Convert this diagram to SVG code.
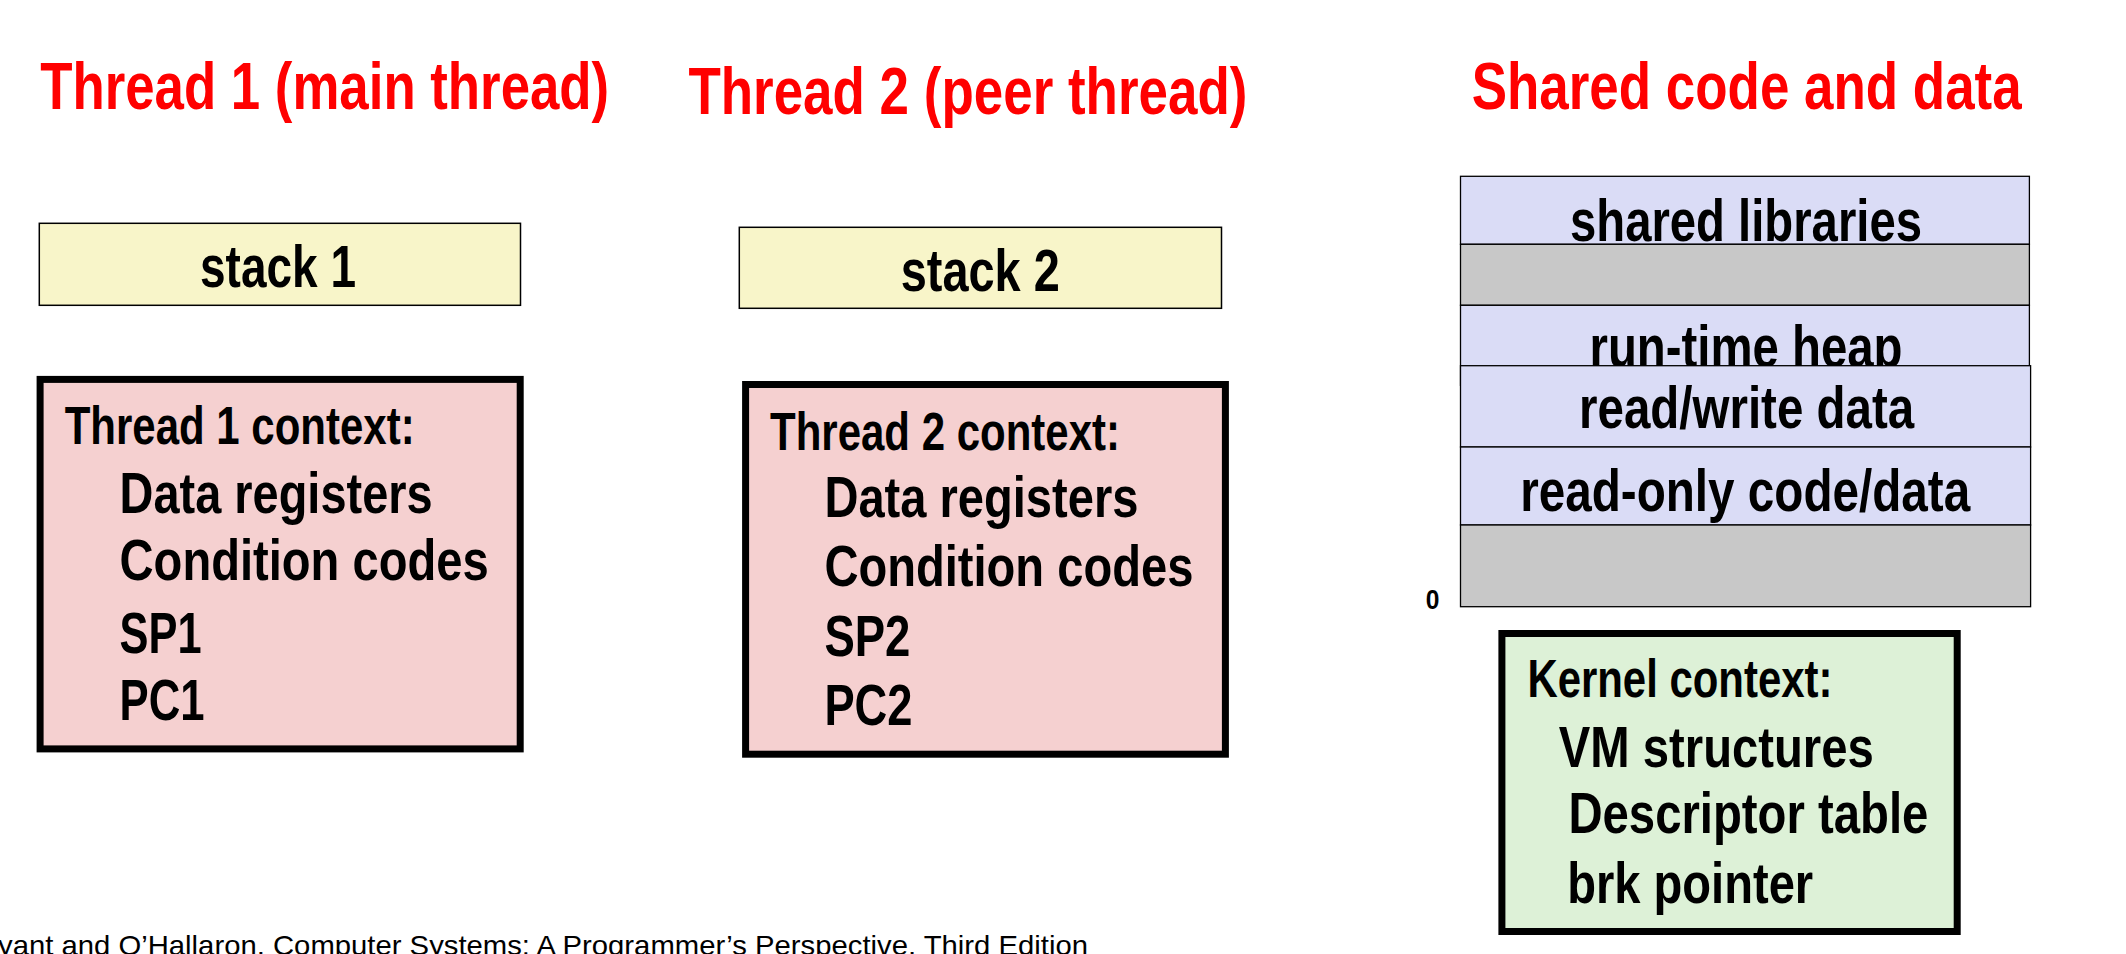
<svg xmlns="http://www.w3.org/2000/svg" width="2126" height="954" viewBox="0 0 2126 954">
<style>
.t{font-family:"Liberation Sans Narrow","Liberation Sans",Arial,sans-serif;font-weight:bold;fill:#000}
.h{fill:#FF0000;font-size:67px}
.s57{font-size:59px}
.s51{font-size:53px}
.s55{font-size:58px}
.stack{fill:#F8F5C9;stroke:#000;stroke-width:1.5}
.ctx{fill:#F5D0D0;stroke:#000;stroke-width:7}
.kctx{fill:#DDF1D7;stroke:#000;stroke-width:7}
.seg{fill:#DADCF6;stroke:#000;stroke-width:1.3}
.gap{fill:#C8C8C8;stroke:#000;stroke-width:1.3}
.foot{font-family:"Liberation Sans",Arial,sans-serif;font-size:28px;fill:#000}
</style>
<rect width="2126" height="954" fill="#FFFFFF"/>
<g id="headings">
<text class="t h" x="40.2" y="109" textLength="569" lengthAdjust="spacingAndGlyphs">Thread 1 (main thread)</text>
<text class="t h" x="688.4" y="114" textLength="559" lengthAdjust="spacingAndGlyphs">Thread 2 (peer thread)</text>
<text class="t h" x="1471.7" y="109.3" textLength="550" lengthAdjust="spacingAndGlyphs">Shared code and data</text>
</g>
<g id="stack1">
<rect class="stack" x="39.3" y="223.3" width="481.2" height="82"/>
<text class="t s57" x="200" y="287.3" textLength="156" lengthAdjust="spacingAndGlyphs">stack 1</text>
</g>
<g id="stack2">
<rect class="stack" x="739.3" y="227.3" width="482.2" height="81"/>
<text class="t s57" x="900.8" y="290.7" textLength="159" lengthAdjust="spacingAndGlyphs">stack 2</text>
</g>
<g id="thread1-context">
<rect class="ctx" x="40.1" y="379.4" width="480.1" height="369.5"/>
<text class="t s51" x="64.7" y="444" textLength="350" lengthAdjust="spacingAndGlyphs">Thread 1 context:</text>
<text class="t s55" x="119.6" y="512.7" textLength="313" lengthAdjust="spacingAndGlyphs">Data registers</text>
<text class="t s55" x="119.6" y="579.7" textLength="369" lengthAdjust="spacingAndGlyphs">Condition codes</text>
<text class="t s55" x="119.6" y="652.8" textLength="82" lengthAdjust="spacingAndGlyphs">SP1</text>
<text class="t s55" x="119.6" y="719.8" textLength="85" lengthAdjust="spacingAndGlyphs">PC1</text>
</g>
<g id="thread2-context">
<rect class="ctx" x="745.6" y="384.5" width="479.8" height="369.7"/>
<text class="t s51" x="770" y="450" textLength="350" lengthAdjust="spacingAndGlyphs">Thread 2 context:</text>
<text class="t s55" x="824.4" y="516.7" textLength="314" lengthAdjust="spacingAndGlyphs">Data registers</text>
<text class="t s55" x="824.4" y="585.7" textLength="369" lengthAdjust="spacingAndGlyphs">Condition codes</text>
<text class="t s55" x="824.4" y="656" textLength="86" lengthAdjust="spacingAndGlyphs">SP2</text>
<text class="t s55" x="824.4" y="725" textLength="88" lengthAdjust="spacingAndGlyphs">PC2</text>
</g>
<g id="shared-memory">
<rect class="seg" x="1460.5" y="176.3" width="568.9" height="68"/>
<text class="t s57" x="1570" y="240.7" textLength="352" lengthAdjust="spacingAndGlyphs">shared libraries</text>
<rect class="gap" x="1460.5" y="244.3" width="568.9" height="61"/>
<rect class="seg" x="1460.5" y="305.3" width="568.9" height="80"/>
<text class="t s57" x="1589.5" y="367" textLength="313" lengthAdjust="spacingAndGlyphs">run-time heap</text>
<rect class="seg" x="1460.5" y="365.7" width="570.1" height="81.3"/>
<text class="t s57" x="1579.1" y="428.3" textLength="335" lengthAdjust="spacingAndGlyphs">read/write data</text>
<rect class="seg" x="1460.5" y="447" width="570.1" height="78"/>
<text class="t s57" x="1520.2" y="510.7" textLength="450" lengthAdjust="spacingAndGlyphs">read-only code/data</text>
<rect class="gap" x="1460.5" y="525" width="570.1" height="81.7"/>
<text class="t" style="font-size:27px" x="1425.7" y="609.3" textLength="13.7" lengthAdjust="spacingAndGlyphs">0</text>
</g>
<g id="kernel-context">
<rect class="kctx" x="1501.9" y="633.5" width="455.3" height="298"/>
<text class="t s51" x="1527.4" y="697.3" textLength="305" lengthAdjust="spacingAndGlyphs">Kernel context:</text>
<text class="t s55" x="1558.8" y="766.7" textLength="315" lengthAdjust="spacingAndGlyphs">VM structures</text>
<text class="t s55" x="1568.4" y="833.3" textLength="360" lengthAdjust="spacingAndGlyphs">Descriptor table</text>
<text class="t s55" x="1567.2" y="903.3" textLength="246" lengthAdjust="spacingAndGlyphs">brk pointer</text>
</g>
<g id="connectors"></g>
<g id="footer">
<text class="foot" x="-2" y="955" textLength="1090" lengthAdjust="spacingAndGlyphs">yant and O’Hallaron, Computer Systems: A Programmer’s Perspective, Third Edition</text>
</g>
</svg>
